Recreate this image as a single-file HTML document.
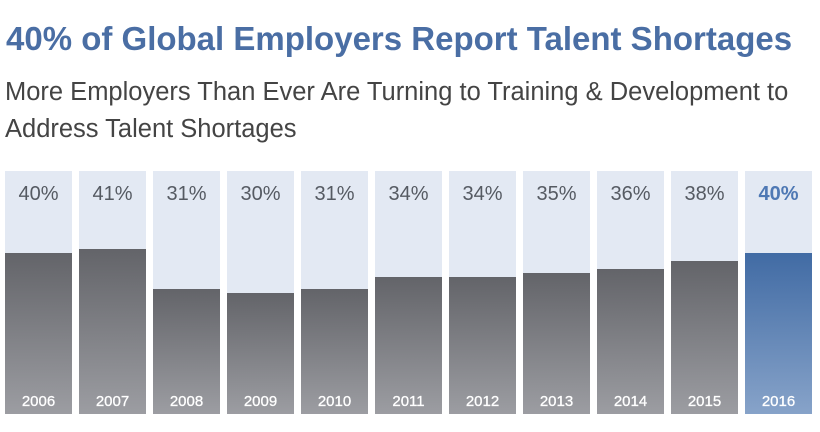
<!DOCTYPE html>
<html><head><style>
body{margin:0;width:820px;height:432px;background:#fff;font-family:"Liberation Sans",sans-serif;position:relative;overflow:hidden}
.t{position:absolute;left:6px;top:20px;font-size:33px;font-weight:bold;color:#4a6ea4;white-space:nowrap}
.s{position:absolute;left:5px;top:74px;font-size:25.5px;line-height:37px;color:#444;white-space:nowrap}
.c{position:absolute;top:171px;width:67px;height:243px;background:#e3e9f3}
.b{position:absolute;left:0;bottom:0;width:67px;background:linear-gradient(#636469,#9c9da2)}
.b.blue{background:linear-gradient(#416ba4,#87a3c9)}
.p{position:absolute;top:12px;width:67px;text-align:center;font-size:20px;color:#555a62}
.y{position:absolute;bottom:4px;width:67px;text-align:center;font-size:15px;color:#fff;-webkit-text-stroke:0.3px #fff}
</style></head><body>
<div class="t">40% of Global Employers Report Talent Shortages</div>
<div class="s">More Employers Than Ever Are Turning to Training &amp; Development to<br>Address Talent Shortages</div>
<div id="ch"></div>
<script>
var d=[[2006,40],[2007,41],[2008,31],[2009,30],[2010,31],[2011,34],[2012,34],[2013,35],[2014,36],[2015,38],[2016,40]];
var h='';
d.forEach(function(e,i){
var last=i==10;
h+='<div class="c" style="left:'+(5+i*74)+'px"><div class="b'+(last?' blue':'')+'" style="height:'+Math.round(e[1]*4.03)+'px"></div><div class="p" style="'+(last?'color:#4e78b4;font-weight:bold':'')+'">'+e[1]+'%</div><div class="y">'+e[0]+'</div></div>';
});
document.getElementById('ch').innerHTML=h;
</script>
</body></html>
